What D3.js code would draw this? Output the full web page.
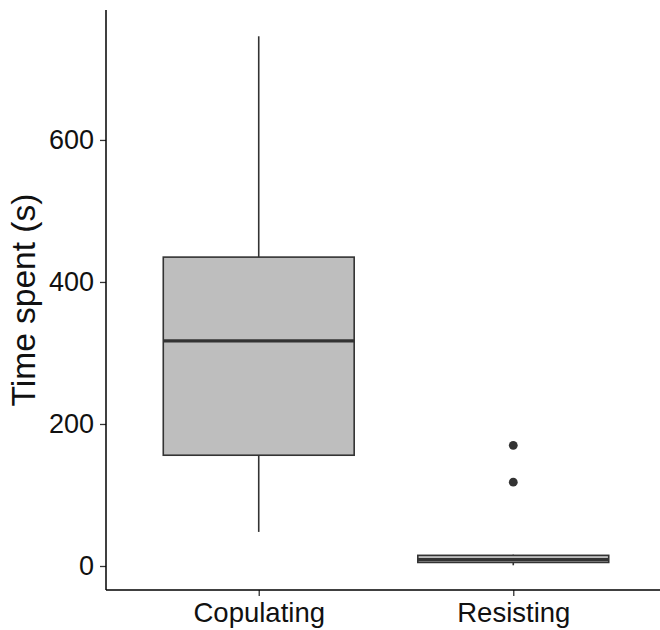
<!DOCTYPE html>
<html>
<head>
<meta charset="utf-8">
<script src="https://cdn.jsdelivr.net/npm/d3@7"></script>
<style>
  body { margin: 0; background: #fff; }
  svg { display: block; font-family: "Liberation Sans", Arial, sans-serif; }
</style>
</head>
<body>
<svg id="chart" width="660" height="630"></svg>
<script>
const categories = ["Copulating", "Resisting"];
const whiskerLow = [48, 1];
const q1 = [156, 5];
const median = [317, 9];
const q3 = [435, 15];
const whiskerHigh = [746, 16];
const outliers = [[], [118, 170]];
const yTicks = [0, 200, 400, 600];
const yLabel = "Time spent (s)";

(function () {
const svg = d3.select("#chart");
const pLeft = 106, pRight = 666, pTop = 10, pBottom = 590;

const y = d3.scaleLinear().domain([-33.8, 783]).range([pBottom, pTop]);
const x = d3.scalePoint().domain(categories).range([pLeft, pRight]).padding(0.6);
const boxW = x.step() * 0.75;

const data = categories.map((c, i) => ({
  c, lo: whiskerLow[i], q1: q1[i], med: median[i], q3: q3[i], hi: whiskerHigh[i], out: outliers[i]
}));

const g = svg.append("g");
const boxes = g.selectAll("g.box").data(data).join("g").attr("class", "box");

boxes.append("line")
  .attr("x1", d => x(d.c)).attr("x2", d => x(d.c))
  .attr("y1", d => y(d.hi)).attr("y2", d => y(d.q3))
  .attr("stroke", "#333").attr("stroke-width", 1.6);
boxes.append("line")
  .attr("x1", d => x(d.c)).attr("x2", d => x(d.c))
  .attr("y1", d => y(d.q1)).attr("y2", d => y(d.lo))
  .attr("stroke", "#333").attr("stroke-width", 1.6);
boxes.append("rect")
  .attr("x", d => x(d.c) - boxW / 2).attr("width", boxW)
  .attr("y", d => y(d.q3)).attr("height", d => y(d.q1) - y(d.q3))
  .attr("fill", "#bebebe").attr("stroke", "#333").attr("stroke-width", 1.6);
boxes.append("line")
  .attr("x1", d => x(d.c) - boxW / 2).attr("x2", d => x(d.c) + boxW / 2)
  .attr("y1", d => y(d.med)).attr("y2", d => y(d.med))
  .attr("stroke", "#333").attr("stroke-width", 3.4);
boxes.selectAll("circle").data(d => d.out.map(v => ({ c: d.c, v }))).join("circle")
  .attr("cx", d => x(d.c)).attr("cy", d => y(d.v)).attr("r", 4.4)
  .attr("fill", "#333");

const yAxis = svg.append("g").attr("transform", `translate(${pLeft},0)`)
  .call(d3.axisLeft(y).tickValues(yTicks).tickSize(6).tickPadding(6));
yAxis.select(".domain").remove();
yAxis.selectAll(".tick line").attr("stroke", "#333").attr("stroke-width", 1.3);
yAxis.selectAll(".tick text").attr("font-size", 27).attr("fill", "#111")
  .attr("font-family", "Liberation Sans, Arial, sans-serif");

const xAxis = svg.append("g").attr("transform", `translate(0,${pBottom})`)
  .call(d3.axisBottom(x).tickSize(6).tickPadding(6));
xAxis.select(".domain").remove();
xAxis.selectAll(".tick line").attr("stroke", "#333").attr("stroke-width", 1.3);
xAxis.selectAll(".tick text").attr("font-size", 27.5).attr("fill", "#111")
  .attr("font-family", "Liberation Sans, Arial, sans-serif");

svg.append("line").attr("x1", pLeft).attr("x2", pLeft).attr("y1", pTop).attr("y2", pBottom)
  .attr("stroke", "#000").attr("stroke-width", 1.5);
svg.append("line").attr("x1", pLeft).attr("x2", 660).attr("y1", pBottom).attr("y2", pBottom)
  .attr("stroke", "#000").attr("stroke-width", 1.5);

svg.append("text")
  .attr("transform", `translate(35,${(pTop + pBottom) / 2}) rotate(-90)`)
  .attr("text-anchor", "middle")
  .attr("font-size", 33.5).attr("fill", "#111")
  .text(yLabel);
})();
</script>
</body>
</html>
